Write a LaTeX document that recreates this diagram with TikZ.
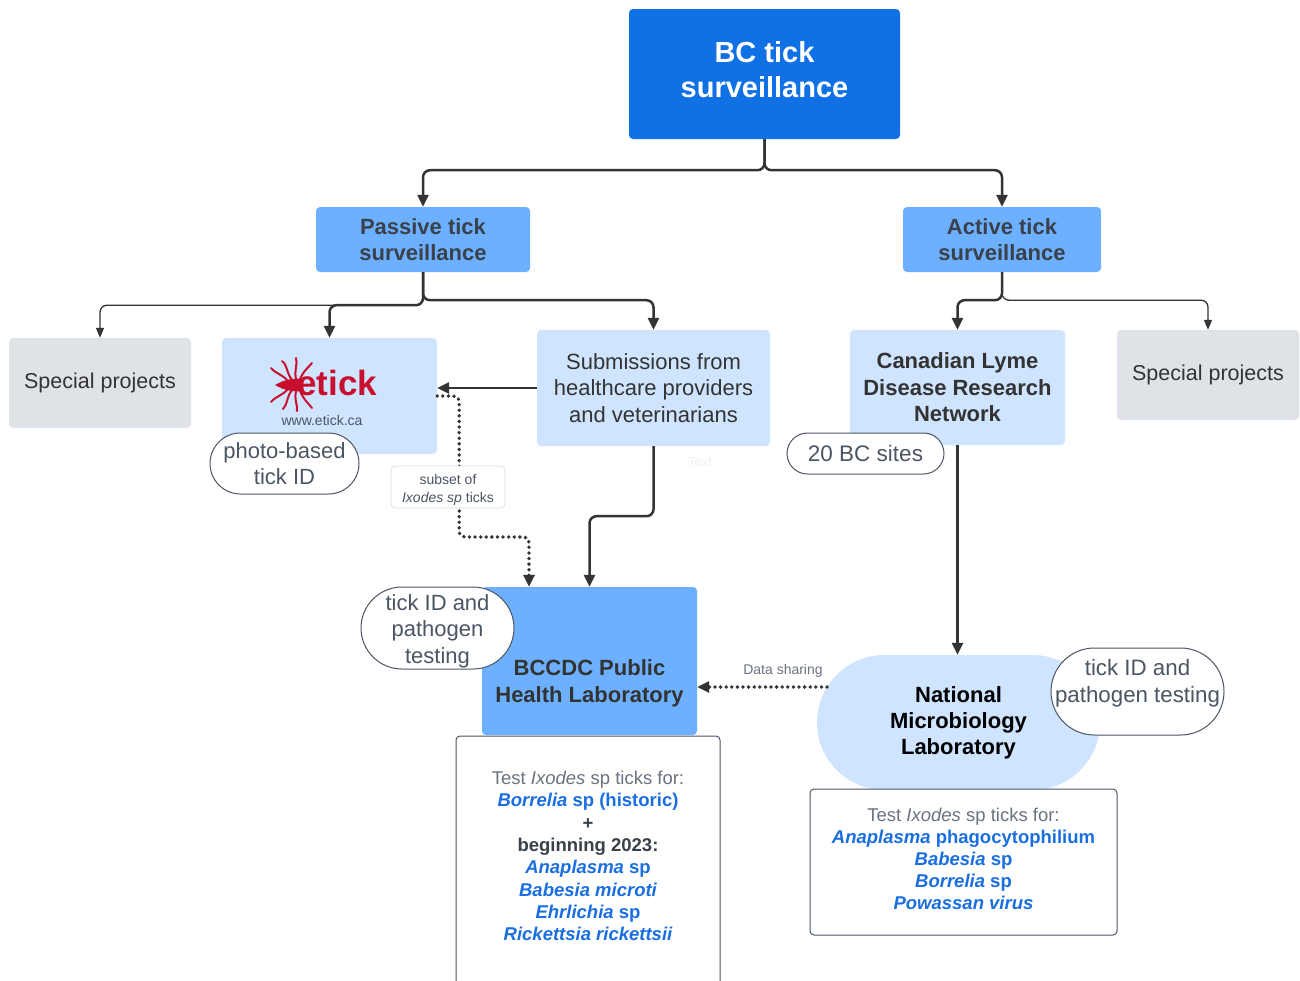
\documentclass[tikz,border=0pt]{standalone}
\usepackage{fontspec}
\setmainfont{Liberation Sans}
\usetikzlibrary{arrows.meta,shapes.misc,calc}
\definecolor{dblue}{HTML}{1071E5}
\definecolor{mblue}{HTML}{6CB0FF}
\definecolor{lblue}{HTML}{CFE4FF}
\definecolor{lgray}{HTML}{DFE3E8}
\definecolor{txt}{HTML}{3A414A}
\definecolor{gtxt}{HTML}{4B5563}
\definecolor{ltxt}{HTML}{6B7280}
\definecolor{ibl}{HTML}{1A6FE0}
\definecolor{ered}{HTML}{C8102E}
\definecolor{lnc}{HTML}{333333}
\newcommand{\fsz}[2]{\fontsize{#1}{#2}\selectfont}
\begin{document}
\begin{tikzpicture}[x=1pt,y=-1pt,
  box/.style={rectangle, rounded corners=4pt, inner sep=0pt, align=center},
  bubble/.style={rounded rectangle, draw=gtxt, line width=1pt, fill=white, inner sep=0pt, align=center, text=gtxt},
  conn/.style={draw=lnc, line width=2.5pt, rounded corners=7pt, -{Triangle[length=12pt,width=11pt]}},
  thinc/.style={draw=lnc, line width=1.3pt, rounded corners=7pt, -{Triangle[length=10pt,width=8pt]}},
  dotc/.style={draw=lnc, line width=3.8pt, line cap=round, dash pattern=on 0pt off 5.6pt, rounded corners=6pt, -{Triangle[length=12pt,width=11pt]}},
  leg/.style={draw=ered, line width=2pt, line cap=round}]
\useasboundingbox (0,0) rectangle (1300,980);
\fill[white] (0,0) rectangle (1300,980);

% main boxes
\node[box, fill=dblue, minimum width=271pt, minimum height=130pt] (top) at (764.5,74) {};
\node[text=white, font=\fsz{29}{35}\bfseries, align=center] (toptext) at (764.5,69.5) {BC tick\\surveillance};
\node[box, fill=mblue, minimum width=214pt, minimum height=65pt, text=txt, font=\fsz{22}{26}\bfseries] (passive) at (423,239.5) {Passive tick\\surveillance};
\node[box, fill=mblue, minimum width=198pt, minimum height=65pt, text=txt, font=\fsz{22}{26}\bfseries] (active) at (1002,239.5) {Active tick\\surveillance};
\node[box, fill=lgray, minimum width=182pt, minimum height=90pt, text=lnc, font=\fsz{21.5}{25}] (sp1) at (100,383) {Special projects};
\node[box, fill=lblue, minimum width=215pt, minimum height=116pt] (etick) at (329.5,396) {};
\node[box, fill=lblue, minimum width=233pt, minimum height=116pt, text=lnc, font=\fsz{22}{26.5}] (subm) at (653.5,388) {Submissions from\\healthcare providers\\and veterinarians};
\node[box, fill=lblue, minimum width=215pt, minimum height=115pt, text=lnc, font=\fsz{22}{26.5}\bfseries] (cldrn) at (957.5,387.5) {Canadian Lyme\\Disease Research\\Network};
\node[box, fill=lgray, minimum width=182pt, minimum height=90pt, text=lnc, font=\fsz{21.5}{25}] (sp2) at (1208,375) {Special projects};
\node[box, fill=mblue, minimum width=215pt, minimum height=148pt] (bccdc) at (589.5,661) {};
\node[text=lnc, font=\fsz{22}{27}\bfseries, align=center] (bccdctext) at (589.5,683.5) {BCCDC Public\\Health Laboratory};
\node[rounded rectangle, fill=lblue, minimum width=283pt, minimum height=135pt, inner sep=0pt, align=center, text=black, font=\fsz{22}{26}\bfseries] (nml) at (958.5,722.5) {National\\Microbiology\\Laboratory};

% etick logo
\node[text=ered, font=\fsz{35}{40}\bfseries, anchor=base west, inner sep=0pt] (etickword) at (297,395) {etick};
\fill[ered] (275,385) .. controls (285,379) and (295,378) .. (303,379) -- (303,391) .. controls (295,392) and (285,391) .. (275,385) -- cycle;
\draw[leg] (288,381) .. controls (282,374) and (276,374) .. (271,368);
\draw[leg] (292,380) .. controls (286,372) and (288,366) .. (282,361);
\draw[leg] (296,379) .. controls (294,370) and (298,364) .. (296,358);
\draw[leg] (300,379) .. controls (304,370) and (308,368) .. (312,363);
\draw[leg] (288,389) .. controls (282,396) and (276,396) .. (271,402);
\draw[leg] (292,390) .. controls (286,398) and (288,404) .. (283,409);
\draw[leg] (296,391) .. controls (294,400) and (298,406) .. (297,411);
\draw[leg] (300,391) .. controls (304,400) and (308,403) .. (312,408);
\node[text=gtxt, font=\fsz{14}{16}] (url) at (322,420) {www.etick.ca};

% connectors
\draw[conn] (top.south) -- ++(0,31) -| (passive.north);
\draw[conn] (top.south) -- ++(0,31) -| (active.north);
\draw[thinc] (passive.south) -- ++(0,33) -| (sp1.north);
\draw[conn] (passive.south) -- ++(0,33) -| (etick.north);
\draw[conn] (passive.south) -- ++(0,28) -| (subm.north);
\draw[conn] (active.south) -- ++(0,28) -| (cldrn.north);
\draw[thinc] (active.south) -- ++(0,28) -| (sp2.north);
\draw[conn] (subm.west) -- (subm.west -| etick.east);
\coordinate (dotend) at ($(bccdc.north)+(-60.5,0)$);
\draw[dotc] (etick.east) -- ++(22,0) -- ++(0,141) -| (dotend);
\draw[conn] (subm.south) -- ++(0,70) -| (bccdc.north);
\draw[conn] (cldrn.south) -- (cldrn.south |- nml.north);
\coordinate (ds) at (827,687);
\draw[dotc] (ds) -- (ds -| bccdc.east);

% labels and bubbles
\node[box, draw=gray!25, line width=0.8pt, fill=white, minimum width=114pt, minimum height=42pt] (subset) at (448,487) {};
\node[text=gtxt, font=\fsz{14}{18}, align=center] (subsettext) at (448,489.5) {subset of\\\textit{Ixodes sp} ticks};
\node[text=ltxt, font=\fsz{14}{16}] (dslabel) at (783,671) {Data sharing};
\node[text=gray!12, font=\fsz{13}{15}] (faint) at (700,462) {Text};
\node[bubble, minimum width=149pt, minimum height=61pt, font=\fsz{22}{26}] (photo) at (284.5,463.5) {photo-based\\tick ID};
\node[bubble, minimum width=157pt, minimum height=41pt, font=\fsz{22.5}{25}] (bcsites) at (865.5,453.5) {20 BC sites};
\node[bubble, minimum width=153pt, minimum height=82pt] (tickl) at (437.5,628) {};
\node[text=gtxt, font=\fsz{22}{26.5}, align=center] (tickltext) at (437.5,631) {tick ID and\\pathogen\\testing};
\node[bubble, minimum width=173pt, minimum height=87pt] (tickr) at (1137.5,691.5) {};
\node[text=gtxt, font=\fsz{22.3}{27}, align=center] (tickrtext) at (1137.5,683) {tick ID and\\pathogen testing};

% test boxes
\node[box, draw=gtxt, line width=1pt, fill=white, minimum width=264pt, minimum height=256pt] (bctest) at (588,864) {};
\node[font=\fsz{18.5}{22.3}, align=center] (bctesttext) at (588,856) {%
{\color{ltxt}Test \textit{Ixodes} sp ticks for:}\\
{\color{ibl}\bfseries\textit{Borrelia} sp (historic)}\\
{\color{txt}\bfseries +}\\
{\color{txt}\bfseries beginning 2023:}\\
{\color{ibl}\bfseries\textit{Anaplasma} sp}\\
{\color{ibl}\bfseries\itshape Babesia microti}\\
{\color{ibl}\bfseries\textit{Ehrlichia} sp}\\
{\color{ibl}\bfseries\itshape Rickettsia rickettsii}};
\node[box, draw=gtxt, line width=1pt, fill=white, minimum width=307pt, minimum height=146pt] (nmltest) at (963.5,862) {};
\node[font=\fsz{18.5}{22}, align=center] (nmltesttext) at (963.5,859) {%
{\color{ltxt}Test \textit{Ixodes} sp ticks for:}\\
{\color{ibl}\bfseries\textit{Anaplasma} phagocytophilium}\\
{\color{ibl}\bfseries\textit{Babesia} sp}\\
{\color{ibl}\bfseries\textit{Borrelia} sp}\\
{\color{ibl}\bfseries\itshape Powassan virus}};
\end{tikzpicture}
\end{document}
